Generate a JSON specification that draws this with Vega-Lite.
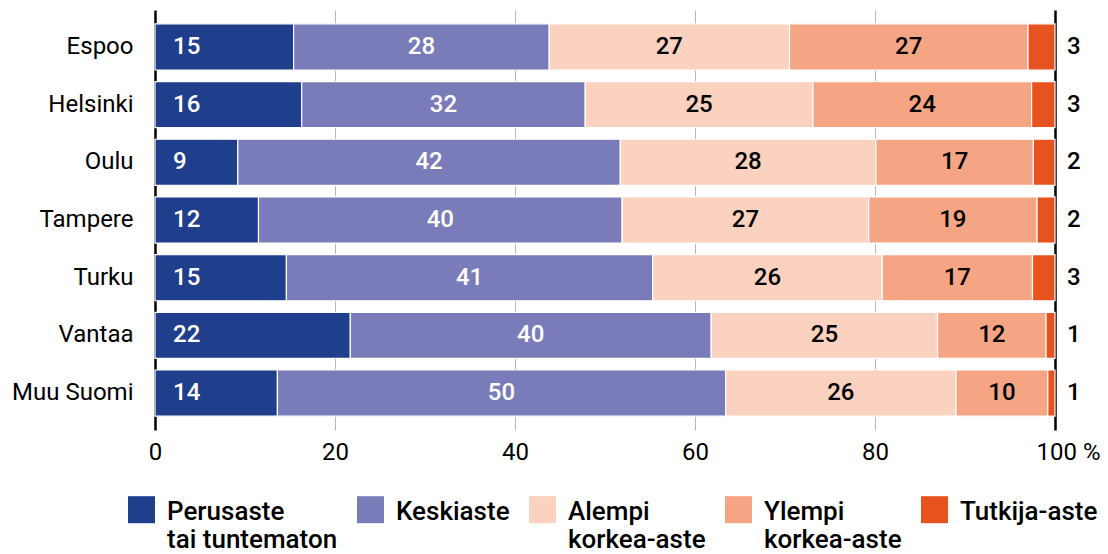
{
  "$schema": "https://vega.github.io/schema/vega-lite/v6.json",
  "width": 900,
  "height": 420,
  "padding": {"left": 5, "top": 10, "right": 5, "bottom": 5},
  "background": "white",
  "config": {"view": {"stroke": null}, "font": "Roboto"},
  "data": {
    "values": [
      {"city": "Espoo", "category": "Perusaste tai tuntematon", "order": 1, "value": 15.4, "label": "15"},
      {"city": "Espoo", "category": "Keskiaste", "order": 2, "value": 28.4, "label": "28"},
      {"city": "Espoo", "category": "Alempi korkea-aste", "order": 3, "value": 26.7, "label": "27"},
      {"city": "Espoo", "category": "Ylempi korkea-aste", "order": 4, "value": 26.5, "label": "27"},
      {"city": "Espoo", "category": "Tutkija-aste", "order": 5, "value": 3.0, "label": "3"},
      {"city": "Helsinki", "category": "Perusaste tai tuntematon", "order": 1, "value": 16.3, "label": "16"},
      {"city": "Helsinki", "category": "Keskiaste", "order": 2, "value": 31.5, "label": "32"},
      {"city": "Helsinki", "category": "Alempi korkea-aste", "order": 3, "value": 25.3, "label": "25"},
      {"city": "Helsinki", "category": "Ylempi korkea-aste", "order": 4, "value": 24.3, "label": "24"},
      {"city": "Helsinki", "category": "Tutkija-aste", "order": 5, "value": 2.6, "label": "3"},
      {"city": "Oulu", "category": "Perusaste tai tuntematon", "order": 1, "value": 9.2, "label": "9"},
      {"city": "Oulu", "category": "Keskiaste", "order": 2, "value": 42.5, "label": "42"},
      {"city": "Oulu", "category": "Alempi korkea-aste", "order": 3, "value": 28.4, "label": "28"},
      {"city": "Oulu", "category": "Ylempi korkea-aste", "order": 4, "value": 17.5, "label": "17"},
      {"city": "Oulu", "category": "Tutkija-aste", "order": 5, "value": 2.4, "label": "2"},
      {"city": "Tampere", "category": "Perusaste tai tuntematon", "order": 1, "value": 11.5, "label": "12"},
      {"city": "Tampere", "category": "Keskiaste", "order": 2, "value": 40.4, "label": "40"},
      {"city": "Tampere", "category": "Alempi korkea-aste", "order": 3, "value": 27.4, "label": "27"},
      {"city": "Tampere", "category": "Ylempi korkea-aste", "order": 4, "value": 18.7, "label": "19"},
      {"city": "Tampere", "category": "Tutkija-aste", "order": 5, "value": 2.0, "label": "2"},
      {"city": "Turku", "category": "Perusaste tai tuntematon", "order": 1, "value": 14.6, "label": "15"},
      {"city": "Turku", "category": "Keskiaste", "order": 2, "value": 40.7, "label": "41"},
      {"city": "Turku", "category": "Alempi korkea-aste", "order": 3, "value": 25.5, "label": "26"},
      {"city": "Turku", "category": "Ylempi korkea-aste", "order": 4, "value": 16.7, "label": "17"},
      {"city": "Turku", "category": "Tutkija-aste", "order": 5, "value": 2.5, "label": "3"},
      {"city": "Vantaa", "category": "Perusaste tai tuntematon", "order": 1, "value": 21.7, "label": "22"},
      {"city": "Vantaa", "category": "Keskiaste", "order": 2, "value": 40.1, "label": "40"},
      {"city": "Vantaa", "category": "Alempi korkea-aste", "order": 3, "value": 25.15, "label": "25"},
      {"city": "Vantaa", "category": "Ylempi korkea-aste", "order": 4, "value": 12.05, "label": "12"},
      {"city": "Vantaa", "category": "Tutkija-aste", "order": 5, "value": 1.0, "label": "1"},
      {"city": "Muu Suomi", "category": "Perusaste tai tuntematon", "order": 1, "value": 13.6, "label": "14"},
      {"city": "Muu Suomi", "category": "Keskiaste", "order": 2, "value": 49.8, "label": "50"},
      {"city": "Muu Suomi", "category": "Alempi korkea-aste", "order": 3, "value": 25.6, "label": "26"},
      {"city": "Muu Suomi", "category": "Ylempi korkea-aste", "order": 4, "value": 10.2, "label": "10"},
      {"city": "Muu Suomi", "category": "Tutkija-aste", "order": 5, "value": 0.8, "label": "1"}
    ]
  },
  "transform": [
    {"stack": "value", "groupby": ["city"], "sort": [{"field": "order", "order": "ascending"}], "as": ["x0", "x1"]}
  ],
  "encoding": {
    "y": {
      "field": "city",
      "type": "nominal",
      "sort": ["Espoo", "Helsinki", "Oulu", "Tampere", "Turku", "Vantaa", "Muu Suomi"],
      "scale": {"paddingInner": 0.2, "paddingOuter": 0.24},
      "axis": {
        "title": null,
        "domain": false,
        "ticks": false,
        "labelPadding": 22,
        "minExtent": 150,
        "maxExtent": 150,
        "labelFontSize": 24,
        "labelColor": "#000000",
        "labelFont": "Roboto"
      }
    }
  },
  "layer": [
    {
      "mark": {"type": "bar", "stroke": "white", "strokeWidth": 1.2},
      "encoding": {
        "x": {
          "field": "x0",
          "type": "quantitative",
          "scale": {"domain": [0, 100], "nice": false},
          "axis": {
            "title": null,
            "values": [0, 20, 40, 60, 80, 100],
            "domain": false,
            "ticks": false,
            "labelFlush": false,
            "labelPadding": 10,
            "labelFontSize": 24,
            "labelColor": "#000000",
            "labelExpr": "datum.value == 100 ? '100 %' : datum.label",
            "labelOffset": {"condition": {"test": "datum.value == 100", "value": 13}, "value": 0},
            "gridColor": {"expr": "datum.value == 0 || datum.value == 100 ? '#000000' : '#b8b8b8'"},
            "gridWidth": {"expr": "datum.value == 0 || datum.value == 100 ? 2.5 : 1"}
          }
        },
        "x2": {"field": "x1"},
        "color": {
          "field": "category",
          "type": "nominal",
          "scale": {
            "domain": ["Perusaste tai tuntematon", "Keskiaste", "Alempi korkea-aste", "Ylempi korkea-aste", "Tutkija-aste"],
            "range": ["#1f3e8c", "#7a7cba", "#fbd2bf", "#f5a584", "#e6531f"]
          },
          "legend": {
            "orient": "none",
            "legendX": -27,
            "legendY": 475,
            "direction": "horizontal",
            "title": null,
            "symbolType": "M-1,-0.19L1,-0.19L1,1.81L-1,1.81Z",
            "symbolSize": 729,
            "symbolStrokeWidth": 0,
            "labelFontSize": 26,
            "labelFontWeight": 500,
            "labelBaseline": "top",
            "labelColor": "#000000",
            "labelOffset": 12,
            "columnPadding": 19,
            "labelLimit": 300,
            "labelExpr": "indexof(datum.label, ' ') > 0 ? [slice(datum.label, 0, indexof(datum.label, ' ')), slice(datum.label, indexof(datum.label, ' ') + 1)] : [datum.label, '\u00a0']"
          }
        }
      }
    },
    {
      "mark": {"type": "text", "fontSize": 24, "fontWeight": 500, "baseline": "middle"},
      "encoding": {
        "x": {"field": "value", "type": "quantitative", "stack": "zero", "bandPosition": 0.5},
        "detail": {"field": "category"},
        "order": {"field": "order"},
        "text": {"condition": {"test": "datum.order == 1 || datum.order == 5", "value": ""}, "field": "label"},
        "color": {"condition": {"test": "datum.order == 2", "value": "#ffffff"}, "value": "#000000"}
      }
    },
    {
      "transform": [{"filter": "datum.order == 1"}],
      "mark": {"type": "text", "fontSize": 24, "fontWeight": 500, "align": "left", "baseline": "middle", "dx": 18, "color": "#ffffff"},
      "encoding": {
        "x": {"field": "x0", "type": "quantitative"},
        "text": {"field": "label"}
      }
    },
    {
      "transform": [{"filter": "datum.order == 5"}],
      "mark": {"type": "text", "fontSize": 24, "fontWeight": 500, "align": "left", "baseline": "middle", "dx": 12, "color": "#000000"},
      "encoding": {
        "x": {"field": "x1", "type": "quantitative"},
        "text": {"field": "label"}
      }
    }
  ]
}
